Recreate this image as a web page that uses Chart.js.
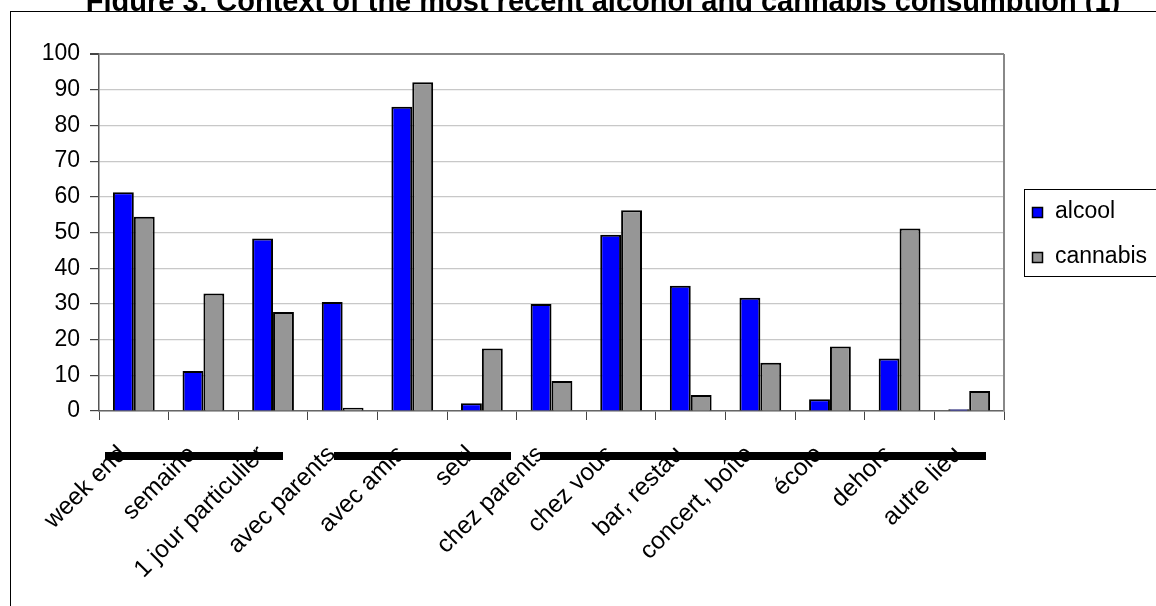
<!DOCTYPE html>
<html>
<head>
<meta charset="utf-8">
<script src="https://cdn.jsdelivr.net/npm/chart.js@4.4.1/dist/chart.umd.min.js"></script>
<style>
  html, body { margin: 0; padding: 0; background: #fff; }
  canvas { display: block; }
</style>
</head>
<body>
<canvas id="chart" width="1156" height="606"></canvas>
<script>
const FONT = "'Liberation Sans', Arial, sans-serif";

const categories = ['week end', 'semaine', '1 jour particulier', 'avec parents', 'avec amis', 'seul',
  'chez parents', 'chez vous', 'bar, restau', 'concert, boîte', 'école', 'dehors', 'autre lieu'];
const alcool = [61.3, 11.2, 48.3, 30.5, 85.2, 2.2, 30.0, 49.4, 35.1, 31.7, 3.3, 14.7, 0.5];
const cannabis = [54.4, 32.9, 27.7, 0.9, 92.1, 17.5, 8.4, 56.2, 4.5, 13.5, 18.1, 51.1, 5.6];
const yMin = 0, yMax = 100, yStep = 10;

const titleText = 'Figure 3: Context of the most recent alcohol and cannabis consumption (1)';
const seriesNames = ['alcool', 'cannabis'];
const seriesColors = ['#0000ff', '#969696'];

// cadre, titre, légende et traits noirs sous les étiquettes
const decor = {
  id: 'decor',
  beforeDraw(chart) {
    const { ctx } = chart;
    ctx.save();
    ctx.fillStyle = '#fff';
    ctx.fillRect(0, 0, chart.width, chart.height);
    ctx.fillStyle = '#000';
    ctx.font = 'bold 29px ' + FONT;
    ctx.textAlign = 'center';
    ctx.textBaseline = 'alphabetic';
    ctx.fillText(titleText, 603, 11);
    ctx.fillStyle = '#fff';
    ctx.fillRect(10, 11, chart.width, chart.height);
    ctx.strokeStyle = '#000';
    ctx.lineWidth = 1;
    ctx.strokeRect(10.5, 11.5, chart.width + 20, chart.height + 20);
    ctx.restore();
  },
  afterDraw(chart) {
    const { ctx, chartArea } = chart;
    ctx.save();
    // bord droit de la zone de traçage
    ctx.strokeStyle = '#888';
    ctx.lineWidth = 2;
    ctx.beginPath();
    ctx.moveTo(chartArea.right, chartArea.top);
    ctx.lineTo(chartArea.right, chartArea.bottom);
    ctx.stroke();

    // légende
    ctx.strokeStyle = '#000';
    ctx.lineWidth = 1;
    ctx.strokeRect(1024.5, 189.5, 200, 87);
    ctx.font = '23px ' + FONT;
    ctx.textAlign = 'left';
    ctx.textBaseline = 'middle';
    seriesNames.forEach((name, i) => {
      const cy = 212 + i * 45;
      ctx.fillStyle = seriesColors[i];
      ctx.fillRect(1032, cy - 5, 11, 11);
      ctx.lineWidth = 1.5;
      ctx.strokeRect(1032.5, cy - 4.5, 10, 10);
      ctx.fillStyle = '#000';
      ctx.fillText(name, 1055, cy);
    });

    // traits noirs
    ctx.fillStyle = '#000';
    [[105, 283], [334, 511], [540, 986]].forEach(([a, b]) => ctx.fillRect(a, 452, b - a, 8));
    ctx.restore();
  }
};

new Chart(document.getElementById('chart'), {
  type: 'bar',
  data: {
    labels: categories,
    datasets: [
      { label: seriesNames[0], data: alcool, backgroundColor: seriesColors[0], borderColor: '#000', borderWidth: 2 },
      { label: seriesNames[1], data: cannabis, backgroundColor: seriesColors[1], borderColor: '#000', borderWidth: 2 }
    ]
  },
  options: {
    responsive: false,
    animation: false,
    events: [],
    datasets: { bar: { categoryPercentage: 0.6, barPercentage: 1 } },
    layout: { padding: { left: 0, top: 54, right: 152, bottom: 0 } },
    plugins: { legend: { display: false }, title: { display: false }, tooltip: { enabled: false } },
    scales: {
      x: {
        grid: { display: true, drawOnChartArea: false, offset: true, tickLength: 9, tickColor: '#444' },
        border: { color: '#666', width: 1.5 },
        ticks: {
          autoSkip: false, minRotation: 45, maxRotation: 45, padding: 20, labelOffset: -11,
          color: '#000', font: { family: FONT, size: 24.5 }
        },
        afterFit: s => { s.height = 195; }
      },
      y: {
        min: yMin, max: yMax,
        ticks: { stepSize: yStep, padding: 10, color: '#000', font: { family: FONT, size: 23 } },
        grid: {
          color: c => c.tick && c.tick.value === yMax ? '#888' : '#c8c8c8',
          lineWidth: c => c.tick && c.tick.value === yMax ? 2 : 1.2,
          tickColor: '#444', tickLength: 9
        },
        border: { color: '#555', width: 1.5 },
        afterFit: s => { s.width = 99; }
      }
    }
  },
  plugins: [decor]
});
</script>
</body>
</html>
